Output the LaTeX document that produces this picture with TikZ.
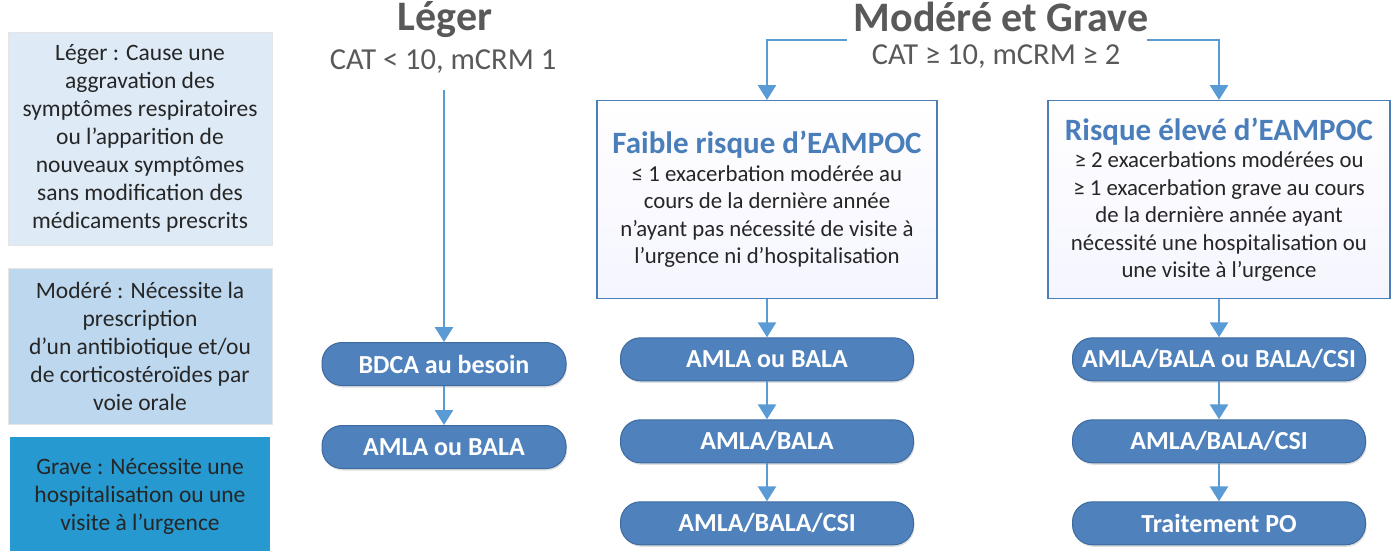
\documentclass[tikz,border=0pt]{standalone}
\usepackage{fontspec}
\setmainfont{Carlito}
\usepackage{xcolor}
\usepackage{tikz}
\usetikzlibrary{positioning, arrows.meta, shadows}

\definecolor{pillblue}{HTML}{4F81BD}
\definecolor{pillborder}{HTML}{3D6B9F}
\definecolor{arrowblue}{HTML}{5B9BD5}
\definecolor{titleblue}{HTML}{4A7EBB}
\definecolor{headgray}{HTML}{595959}
\definecolor{legerfill}{HTML}{DEEBF7}
\definecolor{moderefill}{HTML}{BDD7EE}
\definecolor{gravefill}{HTML}{2599D0}
\definecolor{bodytext}{HTML}{262626}

\begin{document}
\begin{tikzpicture}[
    x=1pt, y=-1pt,
    node distance=38pt,
    legend/.style={rectangle, draw=gray!20, minimum width=264pt, inner xsep=2pt, align=center, text=bodytext, font=\fontsize{23.5}{28}\selectfont},
    riskbox/.style={rectangle, draw=titleblue, line width=1.3pt, top color=white, bottom color=blue!4, minimum width=340pt, minimum height=198pt, inner xsep=2pt, align=center, text=bodytext, font=\fontsize{22.8}{27.5}\selectfont},
    pill/.style={rectangle, rounded corners=20pt, draw=pillborder, fill=pillblue, line width=1pt, minimum width=293pt, minimum height=43pt, text=white, font=\fontsize{26}{30}\selectfont\bfseries, drop shadow={opacity=0.25, shadow xshift=1pt, shadow yshift=-2pt}},
    heading/.style={text=headgray, font=\fontsize{42}{46}\selectfont\bfseries},
    subhead/.style={text=headgray, font=\fontsize{30.5}{34}\selectfont},
    flow/.style={-{Triangle[width=18pt,length=15pt]}, line width=2.8pt, draw=arrowblue}
]
\useasboundingbox (0,0) rectangle (1393,550);

% legend on the left
\node[legend, fill=legerfill, minimum height=213pt, anchor=north] (legleger) at (140,32) {L\'eger : Cause une\\aggravation des\\sympt\^omes respiratoires\\ou l'apparition de\\nouveaux sympt\^omes\\sans modification des\\m\'edicaments prescrits};
\node[legend, fill=moderefill, minimum height=156pt, anchor=north] (legmodere) at (140,268) {Mod\'er\'e : N\'ecessite la\\prescription\\d'un antibiotique et/ou\\de cortico\-st\'ero\"ides par\\voie orale};
\node[legend, fill=gravefill, draw=none, minimum width=260pt, minimum height=118pt, anchor=north] (leggrave) at (140,437) {Grave : N\'ecessite une\\hospitalisation ou une\\visite \`a l'urgence};

% headings
\node[heading] (leger) at (445,20) {L\'eger};
\node[subhead] (catleger) at (443,62) {CAT < 10, mCRM 1};
\node[heading] (modgrave) at (1001,17) {Mod\'er\'e et Grave};
\node[subhead] (catmod) at (996,57) {CAT ≥ 10, mCRM ≥ 2};

% risk boxes
\node[riskbox, anchor=north] (faible) at (767,100) {{\color{titleblue}\fontsize{31}{38}\selectfont\bfseries Faible risque d'EAMPOC}\\≤ 1 exacerbation mod\'er\'ee au\\cours de la derni\`ere ann\'ee\\n'ayant pas n\'ecessit\'e de visite \`a\\l'urgence ni d'hospitalisation};
\node[riskbox, minimum width=342pt, anchor=north] (risque) at (1219,100) {{\color{titleblue}\fontsize{31}{33}\selectfont\bfseries Risque \'elev\'e d'EAMPOC}\\≥ 2 exacerbations mod\'er\'ees ou\\≥ 1 exacerbation grave au cours\\de la derni\`ere ann\'ee ayant\\n\'ecessit\'e une hospitalisation ou\\une visite \`a l'urgence};

% treatments
\node[pill, minimum width=244pt, anchor=north] (bdca) at (444,342) {BDCA au besoin};
\node[pill, minimum width=244pt] (legamla) [below=39pt of bdca] {AMLA ou BALA};

\node[pill] (famla) [below=of faible] {AMLA ou BALA};
\node[pill] (famlabala) [below=of famla] {AMLA/BALA};
\node[pill] (fcsi) [below=of famlabala] {AMLA/BALA/CSI};

\node[pill] (ramla) [below=of risque] {AMLA/BALA ou BALA/CSI};
\node[pill] (rcsi) [below=of ramla] {AMLA/BALA/CSI};
\node[pill] (rpo) [below=of rcsi] {Traitement PO};

% connectors
\coordinate (legtop) at (444,90);
\coordinate (brleft) at (847,40);
\coordinate (brright) at (1147,40);
\draw[flow] (legtop) -- (bdca.north);
\draw[flow] (bdca) -- (legamla);
\draw[flow] (brleft) -| (faible.north);
\draw[flow] (brright) -| (risque.north);
\draw[flow] (faible) -- (famla);
\draw[flow] (famla) -- (famlabala);
\draw[flow] (famlabala) -- (fcsi);
\draw[flow] (risque) -- (ramla);
\draw[flow] (ramla) -- (rcsi);
\draw[flow] (rcsi) -- (rpo);
\end{tikzpicture}
\end{document}
